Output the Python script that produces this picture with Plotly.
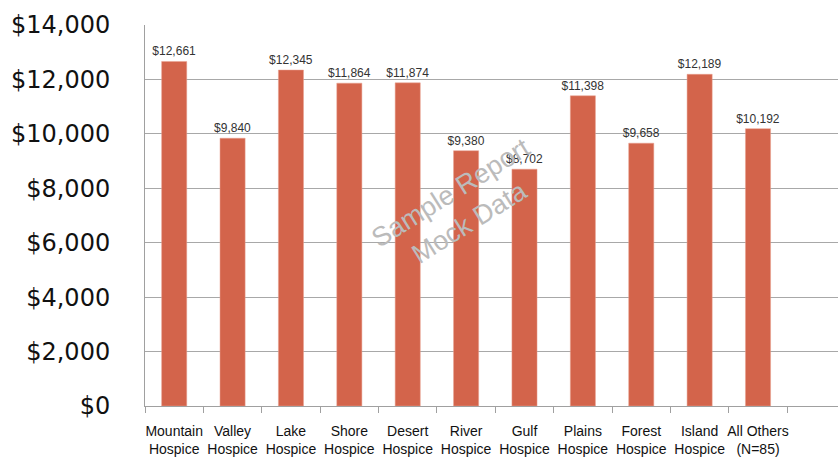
import plotly.graph_objects as go

categories = ["Mountain<br>Hospice", "Valley<br>Hospice", "Lake<br>Hospice", "Shore<br>Hospice",
              "Desert<br>Hospice", "River<br>Hospice", "Gulf<br>Hospice", "Plains<br>Hospice",
              "Forest<br>Hospice", "Island<br>Hospice", "All Others<br>(N=85)"]
values = [12661, 9840, 12345, 11864, 11874, 9380, 8702, 11398, 9658, 12189, 10192]
value_labels = ["$" + format(v, ",") for v in values]
y_ticks = [0, 2000, 4000, 6000, 8000, 10000, 12000, 14000]
y_tick_labels = ["$" + format(v, ",") for v in y_ticks]

fig = go.Figure()
fig.add_trace(go.Bar(
    x=categories, y=values, text=value_labels, textposition="outside",
    constraintext="none",
    textfont=dict(family="Liberation Sans, Arial, sans-serif", size=12, color="#333333"),
    marker=dict(color="#D3644B", line=dict(color="#E8A090", width=0.5)),
    cliponaxis=False, width=0.43,
))

fig.add_annotation(x=0.455, y=0.52, xref="paper", yref="paper", text="Sample Report<br>Mock Data",
                   showarrow=False, textangle=-32,
                   font=dict(family="Liberation Sans, Arial, sans-serif", size=27, color="#BBBBBB"))

fig.update_layout(
    width=838, height=463,
    margin=dict(l=145, r=0, t=25, b=57),
    paper_bgcolor="white", plot_bgcolor="white",
    showlegend=False,
    xaxis=dict(
        range=[-0.5, 11.37], tickson="boundaries", ticks="outside", ticklen=6,
        tickcolor="#A0A0A0", showline=True, linecolor="#A0A0A0", linewidth=1,
        showgrid=False, tickangle=0, automargin=False, ticklabelstandoff=12,
        tickfont=dict(family="Liberation Sans, Arial, sans-serif", size=14, color="#111111"),
    ),
    yaxis=dict(
        range=[0, 14000], tickvals=y_ticks, ticktext=y_tick_labels,
        showgrid=True, gridcolor="#A8A8A8", gridwidth=1,
        showline=True, linecolor="#A0A0A0", linewidth=1, automargin=False,
        ticks="", ticklabelstandoff=29, zeroline=False,
        tickfont=dict(family="DejaVu Sans, sans-serif", size=24, color="#111111"),
    ),
)

fig.write_html("out.html", config={"displayModeBar": False},
               post_script="document.body.style.margin='0';document.body.style.overflow='hidden';")
